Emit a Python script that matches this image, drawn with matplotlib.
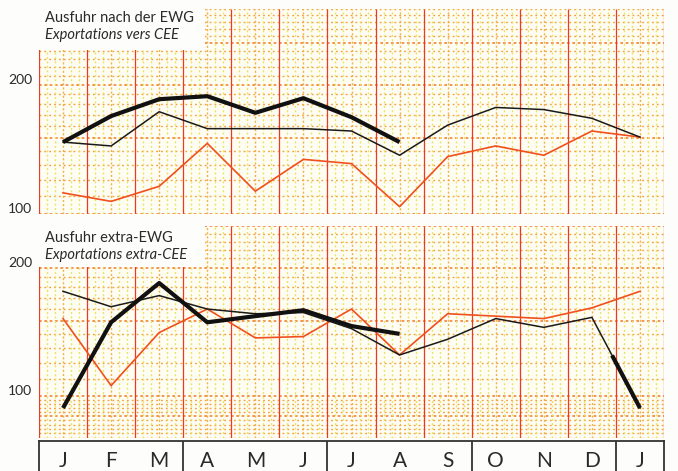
import numpy as np
import matplotlib
matplotlib.use("Agg")
import matplotlib.pyplot as plt
from matplotlib.patches import Rectangle

# Month letters (Jan .. Dec, then Jan of the following year)
months = ["J", "F", "M", "A", "M", "J", "J", "A", "S", "O", "N", "D", "J"]

# Exports to the EEC (index values, log scale)
eec_current = [147, 169, 185, 188, 172, 186, 168, 147]
eec_previous = [147, 144, 173, 158, 158, 158, 156, 137, 161, 177, 175, 167, 151]
eec_two_back = [112, 107, 116, 146, 113, 134, 131, 104, 136, 144, 137, 156, 151]

# Exports outside the EEC
extra_current = [94, 149, 184, 149, 154, 159, 146, 140]
extra_previous = [176, 162, 172, 160, 156, 157, 144, 125, 136, 152, 145, 153, 94]
extra_two_back = [152, 106, 141, 160, 137, 138, 160, 125, 156, 154, 152, 161, 176]

titles_top = ("Ausfuhr nach der EWG", "Exportations vers CEE")
titles_bottom = ("Ausfuhr extra-EWG", "Exportations extra-CEE")

W, H = 678, 471
FONT = "Lato"
RED = "#ee3a1c"
ORANGE_LINE = "#f0501e"
DOT = "#f3a040"
YELLOW = "#ece25a"
INK = "#2a2a2a"
PAPER = "#fdfdfb"

fig = plt.figure(figsize=(W / 100, H / 100), dpi=100)
fig.patch.set_facecolor(PAPER)


def px_axes(left, top, right, bottom):
    return fig.add_axes([left / W, 1 - bottom / H, (right - left) / W, (bottom - top) / H])


def graph_paper(ax, lo, hi):
    ax.set_yscale("log")
    ax.set_ylim(lo, hi)
    ax.set_xlim(0, 13)
    ax.set_facecolor("#fefdf3")
    for s in ax.spines.values():
        s.set_visible(False)
    ax.set_xticks([])
    ax.set_yticks([])
    ax.minorticks_off()
    # horizontal rulings
    fine = list(np.arange(lo, 100, 2)) + list(np.arange(100, hi + 1, 10))
    heavy = [v for v in (90, 100, 150, 200, 250) if lo <= v <= hi]
    light = [v for v in fine if v not in heavy]
    ax.hlines(light, 0, 13, colors=DOT, lw=1.0, linestyles=[(0, (1.3, 2.2))], zorder=1)
    ax.hlines(heavy, 0, 13, colors="#f2823a", lw=1.2, linestyles=[(0, (1.6, 1.6))], zorder=1)
    # vertical rulings
    sub = [k / 6 for k in range(79) if k % 6 not in (0, 3)]
    ax.vlines(sub, lo, hi, colors=YELLOW, lw=1.0, linestyles=[(0, (1.4, 1.8))], zorder=1)
    ax.vlines(np.arange(13) + 0.5, lo, hi, colors="#f4b040", lw=1.0,
              linestyles=[(0, (1.5, 1.5))], zorder=1)
    ax.vlines(np.arange(14), lo, hi, colors=RED, lw=0.9, zorder=1.5)


def plot_series(ax, cur, prev, two_back):
    x_all = np.arange(13) + 0.5
    ax.plot(x_all, two_back, color=ORANGE_LINE, lw=1.2, zorder=3)
    ax.plot(x_all, prev, color="#1a1a1a", lw=1.1, zorder=4)
    ax.plot(x_all[:len(cur)], cur, color="#111111", lw=3.0, zorder=5,
            solid_capstyle="butt")


def titles(ax, lines, y_px_top, y_axes_bottom):
    # white label panel over the paper
    ax.add_patch(Rectangle((0, y_axes_bottom), 166 / 625, 1.2, transform=ax.transAxes,
                           facecolor=PAPER, edgecolor="none", zorder=6))
    fig.text(45 / W, 1 - y_px_top / H, lines[0], fontsize=10.5, family=FONT,
             color=INK, va="center", ha="left", zorder=7)
    fig.text(45 / W, 1 - (y_px_top + 17) / H, lines[1], fontsize=10.5, family=FONT,
             style="italic", color=INK, va="center", ha="left", zorder=7)


# top panel: 100 .. 300
ax1 = px_axes(39, 9, 664, 214)
graph_paper(ax1, 100, 300)
plot_series(ax1, eec_current, eec_previous, eec_two_back)
titles(ax1, titles_top, 18, 0.80)

# bottom panel: 80 .. 250
ax2 = px_axes(39, 226, 664, 438)
graph_paper(ax2, 80, 250)
plot_series(ax2, extra_current, extra_previous, extra_two_back)
# the new year's line takes over on the way into January
x0, x1 = 11.5, 12.5
y0, y1 = extra_previous[11], extra_previous[12]
f = np.linspace(0.42, 1.0, 10)
ax2.plot(x0 + f * (x1 - x0), y0 * (y1 / y0) ** f, color="#111111", lw=3.0, zorder=5,
         solid_capstyle="butt")
titles(ax2, titles_bottom, 238, 0.807)

# y labels
for ax in (ax1, ax2):
    for v in (100, 200):
        ax.annotate(str(v), xy=(0, v), xycoords=("axes fraction", "data"),
                    xytext=(-31, 5), textcoords="offset pixels", ha="left", va="center",
                    fontsize=10, family=FONT, color=INK)

# month strip
ax3 = px_axes(39, 441, 664, 500)
ax3.set_xlim(0, 13)
ax3.set_ylim(0, 1)
ax3.set_facecolor(PAPER)
ax3.set_xticks([])
ax3.set_yticks([])
for side in ("left", "right", "top"):
    ax3.spines[side].set_color("#333333")
    ax3.spines[side].set_linewidth(1.3)
ax3.spines["bottom"].set_visible(False)
ax3.vlines([3, 6, 9, 12], 0, 1, colors="#333333", lw=1.3)
for i, m in enumerate(months):
    ax3.text(i + 0.5, 1 - 20 / 59, m, ha="center", va="center", fontsize=15,
             family=FONT, color=INK)

fig.savefig("out.png", dpi=100, facecolor=fig.get_facecolor())
